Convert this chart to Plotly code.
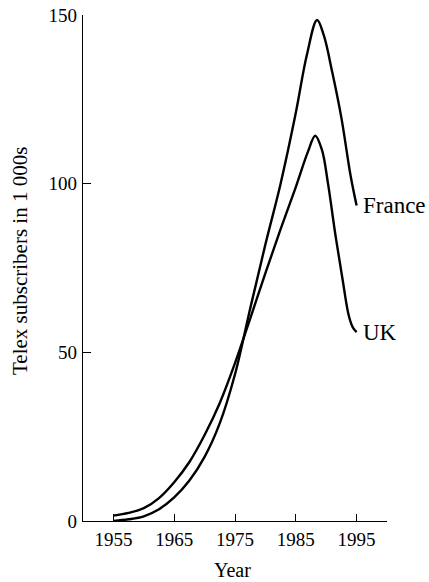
import plotly.graph_objects as go

# Data (years, thousands of subscribers)
uk_years = [1955, 1957.5, 1960, 1962.5, 1965, 1967.5, 1970, 1972.5, 1975, 1977.5, 1980, 1982.5, 1985, 1987,
            1988.2, 1989.3, 1990.3, 1991.5, 1992.7, 1993.7, 1994.4, 1995]
uk_values = [1.6, 2.4, 3.8, 6.8, 11.5, 17.5, 25.5, 35, 46.8, 60, 73.5, 86.5, 99, 109.5,
             114.2, 110, 100, 85, 71.5, 61, 57.3, 56]

france_years = [1955, 1957.5, 1960, 1962.5, 1965, 1967.5, 1970, 1972.5, 1975, 1977.5, 1980, 1982.5, 1985, 1986.8,
                1988.5, 1989.6, 1991, 1992.5, 1994, 1995]
france_values = [0, 0.5, 1.4, 3.5, 7, 12, 19, 29, 43.5, 63, 82, 100, 121, 138,
                 148.5, 144, 133, 119.5, 102.5, 93.5]

x_ticks = [1955, 1965, 1975, 1985, 1995]
y_ticks = [0, 50, 100, 150]
y_ticklabels = ["0", "50", "100", "150"]

FONT = "Liberation Serif"

fig = go.Figure()
for xs, ys in [(uk_years, uk_values), (france_years, france_values)]:
    fig.add_trace(go.Scatter(x=xs, y=ys, mode="lines",
                             line=dict(color="black", width=2.4, shape="spline", smoothing=1.0),
                             showlegend=False, hoverinfo="skip", cliponaxis=False))

fig.add_annotation(x=1995, y=france_values[-1], text="France", showarrow=False,
                   xanchor="left", yanchor="middle", xshift=4, font=dict(family=FONT, size=23, color="black"))
fig.add_annotation(x=1995, y=uk_values[-1], text="UK", showarrow=False,
                   xanchor="left", yanchor="middle", xshift=4, font=dict(family=FONT, size=23, color="black"))
fig.add_annotation(x=0.493, y=-0.0974, xref="paper", yref="paper", text="Year", showarrow=False,
                   xanchor="center", yanchor="middle", font=dict(family=FONT, size=20, color="black"))
fig.add_annotation(x=-0.207, y=0.514, xref="paper", yref="paper", text="Telex subscribers in 1 000s",
                   showarrow=False, textangle=-90, xanchor="center", yanchor="middle",
                   font=dict(family=FONT, size=21, color="black"))

fig.update_layout(
    width=429, height=582,
    margin=dict(l=83, r=42, t=15, b=61),
    paper_bgcolor="white", plot_bgcolor="white",
    font=dict(family=FONT, size=19, color="black"),
    xaxis=dict(range=[1950, 2000], tickvals=x_ticks, ticktext=[str(v) for v in x_ticks],
               ticks="inside", ticklen=7, tickwidth=1.2, tickcolor="black",
               showline=True, linecolor="black", linewidth=1.3, showgrid=False, zeroline=False,
               ticklabelstandoff=1, ticklabeloverflow="allow", automargin=False, fixedrange=True),
    yaxis=dict(range=[0, 150], tickvals=y_ticks, ticktext=y_ticklabels,
               ticks="inside", ticklen=8, tickwidth=1.2, tickcolor="black",
               showline=True, linecolor="black", linewidth=1.3, showgrid=False, zeroline=False,
               ticklabelstandoff=1, ticklabeloverflow="allow", automargin=False, fixedrange=True),
)

fig.write_html("out.html", config={"displayModeBar": False},
               post_script="document.body.style.margin='0';document.body.style.overflow='hidden';")
